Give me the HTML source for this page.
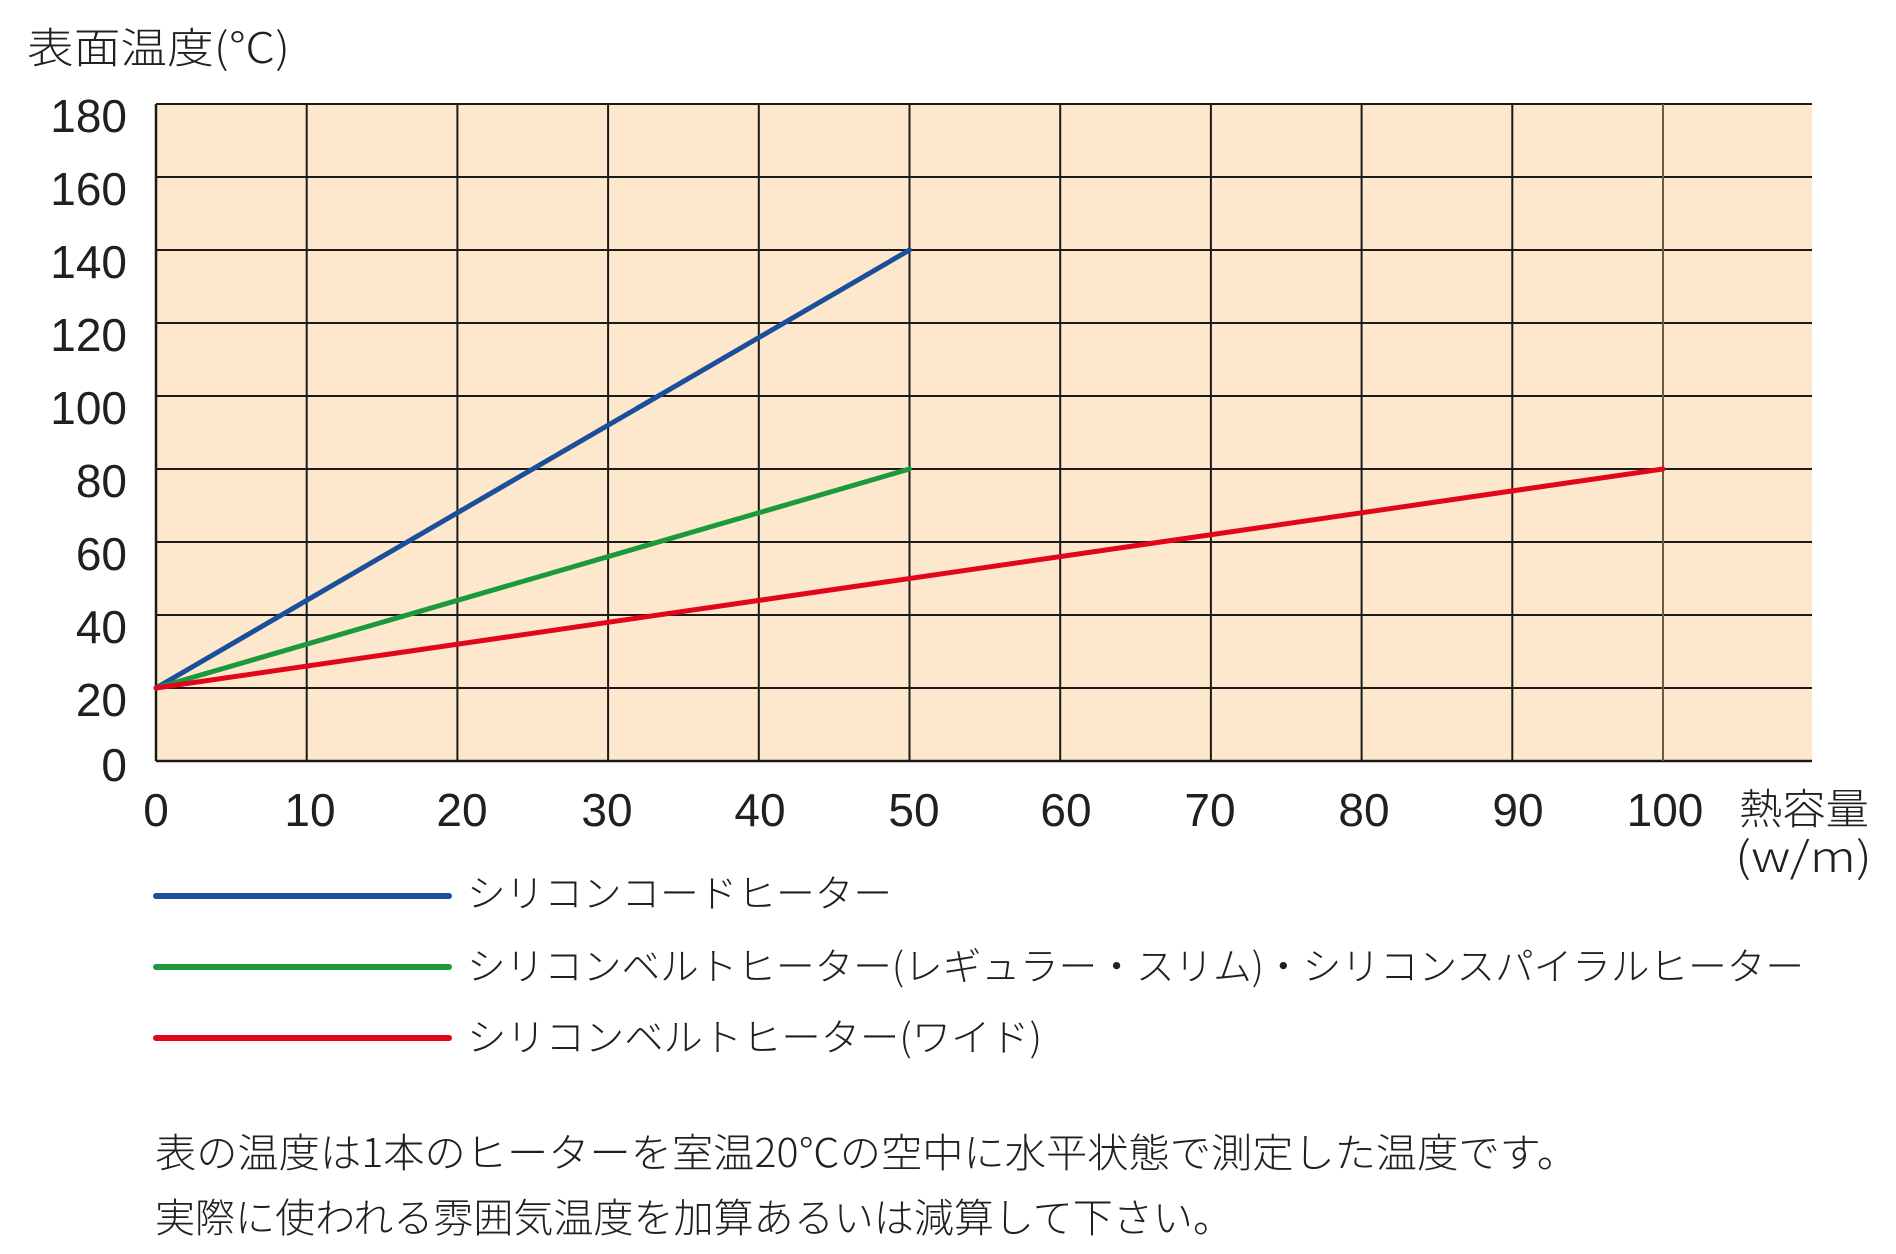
<!DOCTYPE html>
<html><head><meta charset="utf-8"><style>
html,body{margin:0;padding:0;background:#fff;}
svg{display:block;}
text{font-family:"Liberation Sans","Noto Sans CJK JP",sans-serif;fill:#231f20;}
.jp{font-family:"Noto Sans CJK JP","Liberation Sans",sans-serif;font-weight:300;}
</style></head><body>
<svg width="1896" height="1254" viewBox="0 0 1896 1254" xmlns="http://www.w3.org/2000/svg">
<rect x="156" y="104" width="1656" height="657" fill="#fde8cd"/>
<g stroke="#1a1a1a" stroke-width="2">
<line x1="156" y1="104" x2="1812" y2="104"/>
<line x1="156" y1="177" x2="1812" y2="177"/>
<line x1="156" y1="250" x2="1812" y2="250"/>
<line x1="156" y1="323" x2="1812" y2="323"/>
<line x1="156" y1="396" x2="1812" y2="396"/>
<line x1="156" y1="469" x2="1812" y2="469"/>
<line x1="156" y1="542" x2="1812" y2="542"/>
<line x1="156" y1="615" x2="1812" y2="615"/>
<line x1="156" y1="688" x2="1812" y2="688"/>
<line x1="156" y1="761" x2="1812" y2="761" stroke-width="2.5"/>
<line x1="156" y1="104" x2="156" y2="761" stroke-width="2.5"/>
<line x1="306.7" y1="104" x2="306.7" y2="761"/>
<line x1="457.4" y1="104" x2="457.4" y2="761"/>
<line x1="608.1" y1="104" x2="608.1" y2="761"/>
<line x1="758.8" y1="104" x2="758.8" y2="761"/>
<line x1="909.5" y1="104" x2="909.5" y2="761"/>
<line x1="1060.2" y1="104" x2="1060.2" y2="761"/>
<line x1="1210.9" y1="104" x2="1210.9" y2="761"/>
<line x1="1361.6" y1="104" x2="1361.6" y2="761"/>
<line x1="1512.3" y1="104" x2="1512.3" y2="761"/>
<line x1="1663" y1="104" x2="1663" y2="761" stroke="#6b5a4a"/>
</g>
<g stroke-width="5" stroke-linecap="round" fill="none">
<line x1="156" y1="688" x2="909.5" y2="250" stroke="#1a4f9c"/>
<line x1="156" y1="688" x2="909.5" y2="469" stroke="#1a9a3c"/>
<line x1="156" y1="688" x2="1663" y2="469" stroke="#e2061b"/>
</g>
<text class="jp" x="27" y="63" font-size="42" textLength="263" lengthAdjust="spacingAndGlyphs">表面温度(℃)</text>
<g font-size="46" text-anchor="end">
<text x="127" y="132">180</text>
<text x="127" y="205">160</text>
<text x="127" y="278">140</text>
<text x="127" y="351">120</text>
<text x="127" y="424">100</text>
<text x="127" y="497">80</text>
<text x="127" y="570">60</text>
<text x="127" y="643">40</text>
<text x="127" y="716">20</text>
<text x="127" y="781">0</text>
</g>
<g font-size="46" text-anchor="middle">
<text x="156" y="826">0</text>
<text x="310" y="826">10</text>
<text x="462" y="826">20</text>
<text x="607" y="826">30</text>
<text x="760" y="826">40</text>
<text x="914" y="826">50</text>
<text x="1066" y="826">60</text>
<text x="1210" y="826">70</text>
<text x="1364" y="826">80</text>
<text x="1518" y="826">90</text>
<text x="1665" y="826">100</text>
</g>
<text class="jp" x="1739" y="824" font-size="42" textLength="130" lengthAdjust="spacingAndGlyphs">熱容量</text>
<text class="jp" x="1735" y="872" font-size="42" textLength="137" lengthAdjust="spacingAndGlyphs">(w/m)</text>
<g stroke-width="6" stroke-linecap="round">
<line x1="156" y1="896" x2="449" y2="896" stroke="#1a4f9c"/>
<line x1="156" y1="967" x2="449" y2="967" stroke="#1a9a3c"/>
<line x1="156" y1="1038" x2="449" y2="1038" stroke="#e2061b"/>
</g>
<g class="jp" font-size="38">
<text class="jp" x="467" y="907" textLength="425" lengthAdjust="spacingAndGlyphs">シリコンコードヒーター</text>
<text class="jp" x="467" y="980" textLength="1337" lengthAdjust="spacingAndGlyphs">シリコンベルトヒーター(レギュラー・スリム)・シリコンスパイラルヒーター</text>
<text class="jp" x="467" y="1051" textLength="575" lengthAdjust="spacingAndGlyphs">シリコンベルトヒーター(ワイド)</text>
</g>
<text class="jp" x="155" y="1167" font-size="40" textLength="1423" lengthAdjust="spacingAndGlyphs">表の温度は1本のヒーターを室温20℃の空中に水平状態で測定した温度です。</text>
<text class="jp" x="155" y="1232" font-size="40" textLength="1078" lengthAdjust="spacingAndGlyphs">実際に使われる雰囲気温度を加算あるいは減算して下さい。</text>
</svg>
</body></html>
